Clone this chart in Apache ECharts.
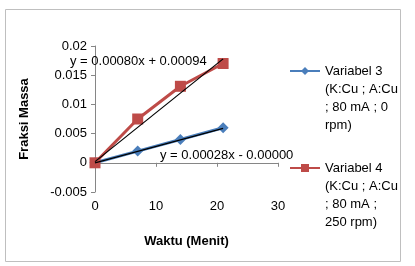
<!DOCTYPE html>
<html>
<head>
<meta charset="utf-8">
<script src="https://cdn.jsdelivr.net/npm/echarts@6/dist/echarts.min.js"></script>
<style>
  html, body { margin: 0; padding: 0; background: #fff; }
  #main { width: 415px; height: 266px; }
</style>
</head>
<body>
<div id="main"></div>
<script>
// data
const waktu = [0, 7, 14, 21]
const var3 = [0, 0.0020, 0.0040, 0.0060]
const var4 = [0, 0.0075, 0.0131, 0.0170]
// trend line ends (x, y)
const trend3 = [[0, 0.0000], [21, 0.0059]]
const trend4 = [[0, 0.0002], [21, 0.0178]]
const names = ['Variabel 3 (K:Cu ; A:Cu ; 80 mA ; 0 rpm)', 'Variabel 4 (K:Cu ; A:Cu ; 80 mA ; 250 rpm)']
const legendText = {}
// leading blank lines keep the icon next to the first line of text
legendText[names[0]] = '\n\n\nVariabel 3\n(K:Cu ; A:Cu\n; 80 mA ; 0\nrpm)'
legendText[names[1]] = '\n\n\nVariabel 4\n(K:Cu ; A:Cu\n; 80 mA ;\n250 rpm)'
const eq3 = 'y = 0.00028x - 0.00000'
const eq4 = 'y = 0.00080x + 0.00094'

const font = 'Liberation Sans, Arial, sans-serif'
const pair = (xs, ys) => xs.map((x, i) => [x, ys[i]])

var myChart = echarts.init(document.getElementById('main'))

var legendStyle = {
  fontSize: 13,
  fontFamily: font,
  color: '#000',
  lineHeight: 18
}

var option = {
  backgroundColor: '#fff',
  animation: false,
  grid: { left: 95, right: 137, top: 46, bottom: 74 },
  legend: [
    {
      data: [names[0]], left: 289, top: 8, orient: 'vertical', padding: 0,
      itemWidth: 30, itemHeight: 10, itemGap: 0,
      formatter: (n) => legendText[n], textStyle: legendStyle
    },
    {
      data: [names[1]], left: 289, top: 105, orient: 'vertical', padding: 0,
      itemWidth: 30, itemHeight: 10, itemGap: 0,
      formatter: (n) => legendText[n], textStyle: legendStyle
    }
  ],
  xAxis: {
    type: 'value',
    min: 0, max: 30, interval: 10,
    name: 'Waktu (Menit)',
    nameLocation: 'middle',
    nameGap: 43,
    nameTextStyle: { fontSize: 13, fontWeight: 'bold', fontFamily: font, color: '#000' },
    axisLine: { onZero: true, lineStyle: { color: '#868686' } },
    axisTick: { show: true, length: 4, lineStyle: { color: '#868686' } },
    axisLabel: { fontSize: 13, fontFamily: font, color: '#000', margin: 8 },
    splitLine: { show: false }
  },
  yAxis: {
    type: 'value',
    min: -0.005, max: 0.02, interval: 0.005,
    name: 'Fraksi Massa',
    nameLocation: 'middle',
    nameGap: 64,
    nameRotate: 90,
    nameTextStyle: { fontSize: 13, fontWeight: 'bold', fontFamily: font, color: '#000' },
    axisLine: { show: true, lineStyle: { color: '#868686' } },
    axisTick: { show: true, length: 4, lineStyle: { color: '#868686' } },
    axisLabel: { fontSize: 13, fontFamily: font, color: '#000', margin: 8 },
    splitLine: { show: false }
  },
  series: [
    {
      name: names[0], type: 'line', data: pair(waktu, var3),
      symbol: 'diamond', symbolSize: 11,
      itemStyle: { color: '#4A7EBB' },
      lineStyle: { width: 3, color: '#4A7EBB' },
      z: 2
    },
    {
      name: names[1], type: 'line', data: pair(waktu, var4),
      symbol: 'rect', symbolSize: 11,
      itemStyle: { color: '#BE4B48' },
      lineStyle: { width: 3, color: '#BE4B48' },
      z: 2
    },
    {
      name: 'trend3', type: 'line', data: trend3, showSymbol: false, symbol: 'none',
      lineStyle: { width: 1.2, color: '#000' }, z: 3, silent: true
    },
    {
      name: 'trend4', type: 'line', data: trend4, showSymbol: false, symbol: 'none',
      lineStyle: { width: 1.2, color: '#000' }, z: 3, silent: true
    }
  ],
  graphic: [
    {
      type: 'rect', left: 5, top: 9, z: -1,
      shape: { width: 395, height: 252 },
      style: { fill: '#fff', stroke: '#BFBFBF', lineWidth: 1 }
    },
    {
      type: 'text', left: 70, top: 55, z: 10,
      style: { text: eq4, fontSize: 13, fontFamily: font, fill: '#000' }
    },
    {
      type: 'text', left: 160, top: 149, z: 10,
      style: { text: eq3, fontSize: 13, fontFamily: font, fill: '#000' }
    }
  ]
}
myChart.setOption(option)
</script>
</body>
</html>
